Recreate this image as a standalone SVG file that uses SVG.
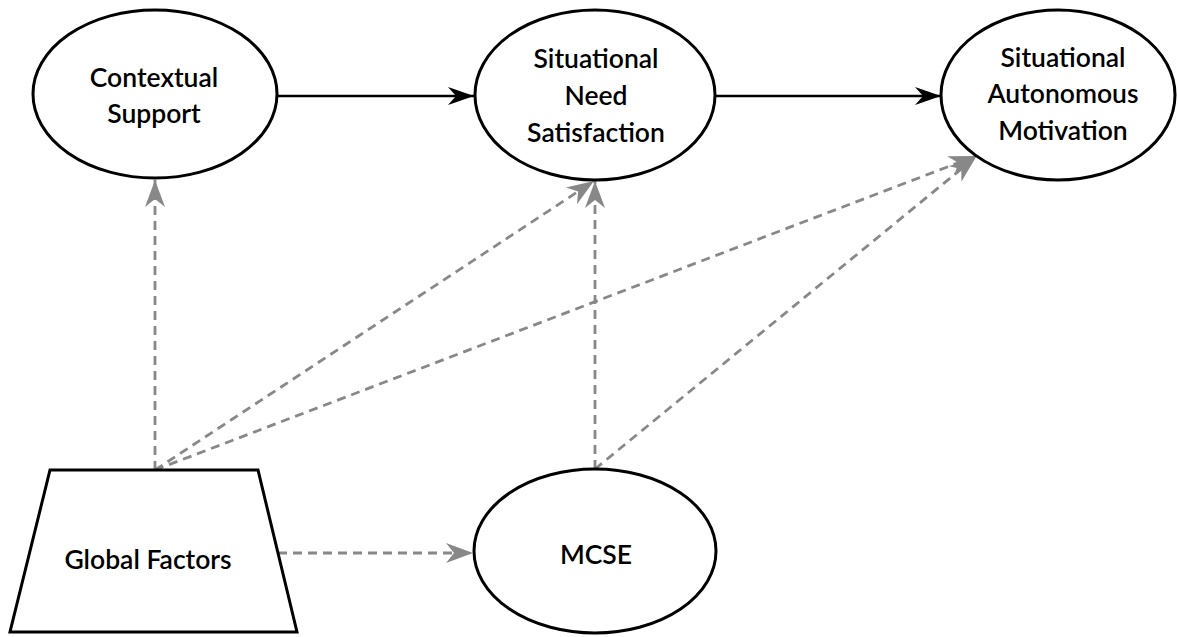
<svg xmlns="http://www.w3.org/2000/svg" width="1178" height="637" viewBox="0 0 1178 637">
  <style>
    .node { fill: #fff; stroke: #000; stroke-width: 3; }
    .label { font-family: Lato, "Open Sans", "Liberation Sans", sans-serif; font-size: 26.5px; font-weight: 600; fill: #000; text-anchor: middle; }
    .solid { stroke: #000; stroke-width: 2.5; fill: none; }
    .dashed { stroke: #888; stroke-width: 2.8; fill: none; stroke-dasharray: 9 6; }
  </style>
  <defs>
    <marker id="arrowBlack" markerUnits="userSpaceOnUse" viewBox="-28 -12 30 24" refX="0" refY="0" markerWidth="30" markerHeight="24" orient="auto">
      <path d="M0,0 L-26,-9 L-18,0 L-26,9 Z" fill="#000"/>
    </marker>
    <marker id="arrowGray" markerUnits="userSpaceOnUse" viewBox="-28 -12 30 24" refX="0" refY="0" markerWidth="30" markerHeight="24" orient="auto">
      <path d="M0,0 L-27,-10 L-19,0 L-27,10 Z" fill="#888"/>
    </marker>
  </defs>

  <rect width="1178" height="637" fill="#fff"/>

  <!-- connectors -->
  <g id="connectors">
    <line class="solid" x1="277" y1="96" x2="474" y2="96" marker-end="url(#arrowBlack)"/>
    <line class="solid" x1="715" y1="96" x2="941" y2="96" marker-end="url(#arrowBlack)"/>
    <line class="dashed" x1="155" y1="470" x2="155" y2="180" marker-end="url(#arrowGray)"/>
    <line class="dashed" x1="155" y1="470" x2="594" y2="181" marker-end="url(#arrowGray)"/>
    <line class="dashed" x1="155" y1="470" x2="976" y2="156" marker-end="url(#arrowGray)"/>
    <line class="dashed" x1="595" y1="469" x2="595" y2="181" marker-end="url(#arrowGray)"/>
    <line class="dashed" x1="595" y1="469" x2="976" y2="157" marker-end="url(#arrowGray)"/>
    <line class="dashed" x1="278" y1="553" x2="473" y2="553" marker-end="url(#arrowGray)"/>
  </g>

  <!-- nodes -->
  <g id="contextual-support">
    <ellipse class="node" cx="155" cy="94" rx="122" ry="84"/>
    <text class="label" x="154" y="87">Contextual</text>
    <text class="label" x="154" y="123">Support</text>
  </g>

  <g id="need-satisfaction">
    <ellipse class="node" cx="595" cy="95" rx="120" ry="85"/>
    <text class="label" x="596" y="68">Situational</text>
    <text class="label" x="596" y="105">Need</text>
    <text class="label" x="596" y="142">Satisfaction</text>
  </g>

  <g id="autonomous-motivation">
    <ellipse class="node" cx="1058" cy="95" rx="117" ry="85"/>
    <text class="label" x="1063" y="67">Situational</text>
    <text class="label" x="1063" y="103">Autonomous</text>
    <text class="label" x="1063" y="140">Motivation</text>
  </g>

  <g id="global-factors">
    <polygon class="node" points="50,470 258,470 297,632 10,632" stroke-width="2.5"/>
    <text class="label" x="148" y="569" font-weight="700">Global Factors</text>
  </g>

  <g id="mcse">
    <ellipse class="node" cx="595" cy="551" rx="121" ry="82"/>
    <text class="label" x="596" y="564">MCSE</text>
  </g>
</svg>
